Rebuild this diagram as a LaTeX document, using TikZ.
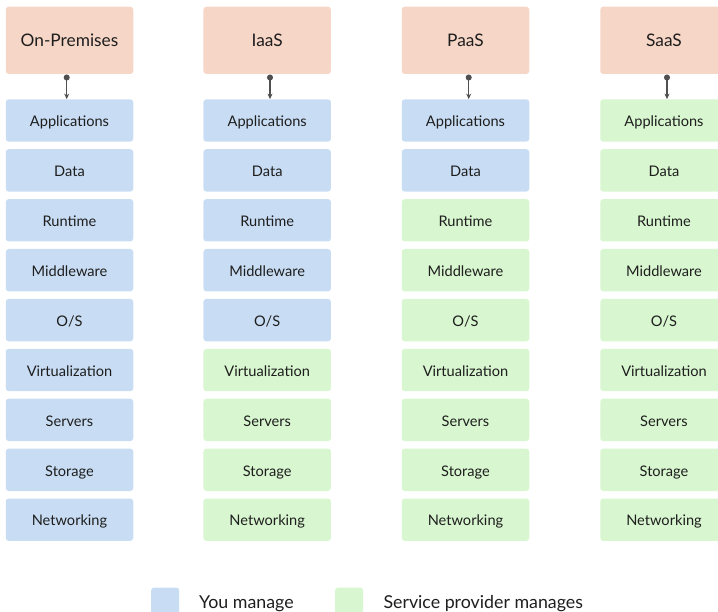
\documentclass[tikz,border=0pt]{standalone}
\usepackage{fontspec}
\setmainfont{Lato}
\usetikzlibrary{arrows.meta}
\definecolor{peach}{RGB}{246,214,198}
\definecolor{youblue}{RGB}{200,221,244}
\definecolor{provgreen}{RGB}{216,246,207}
\definecolor{ink}{RGB}{30,30,30}
\definecolor{conncol}{RGB}{80,80,80}
\tikzset{
  headbox/.style={fill=peach, rounded corners=3pt, minimum width=127.5pt, minimum height=67.3pt, inner sep=0pt, text height=12.7pt, text depth=0pt, font=\fontsize{17.3}{19}\selectfont, text=ink},
  layerbox/.style={rounded corners=3pt, minimum width=127.5pt, minimum height=42.4pt, inner sep=0pt, text height=12.4pt, text depth=0pt, font=\fontsize{14.6}{16}\selectfont, text=ink},
  you/.style={layerbox, fill=youblue},
  prov/.style={layerbox, fill=provgreen},
  conn/.style={draw=conncol, line width=1.2pt, {Circle[length=6pt,width=6pt]}-{Stealth[length=5.5pt,width=5pt]}},
  legsq/.style={rounded corners=3pt, minimum width=28pt, minimum height=30pt, inner sep=0pt, anchor=north west},
  legtext/.style={anchor=base west, inner sep=0pt, font=\fontsize{17.8}{20}\selectfont, text=ink}
}
\begin{document}
\begin{tikzpicture}[x=1pt,y=-1pt]
\useasboundingbox (0,0) rectangle (718,612);
% column definitions: index/center x/header/number of blue layers/arrow offset
\foreach \c/\cx/\title/\nblue/\aoff in {1/69.5/On-Premises/9/-2.8, 2/267.2/IaaS/5/2.8, 3/465.5/PaaS/2/3.2, 4/664/SaaS/0/3}{
  \node[headbox] (h\c) at (\cx,40.35) {\title};
  \foreach \r/\lab in {1/Applications,2/Data,3/Runtime,4/Middleware,5/{O/S},6/Virtualization,7/Servers,8/Storage,9/Networking}{
    \pgfmathsetmacro{\ry}{120.5+49.9*(\r-1)}
    \ifnum\r>\nblue
      \node[prov] (l\c-\r) at (\cx,\ry) {\lab};
    \else
      \node[you] (l\c-\r) at (\cx,\ry) {\lab};
    \fi
  }
  \draw[conn] ([xshift=\aoff pt,yshift=-0.3pt]h\c.south) -- ([xshift=\aoff pt]l\c-1.north);
}
% legend
\node[legsq, fill=youblue] (legyou) at (151,587.3) {};
\node[legtext] (legyoutxt) at (199,608.3) {You manage};
\node[legsq, fill=provgreen] (legprov) at (335,587.3) {};
\node[legtext] (legprovtxt) at (383.3,608.3) {Service provider manages};
\end{tikzpicture}
\end{document}
